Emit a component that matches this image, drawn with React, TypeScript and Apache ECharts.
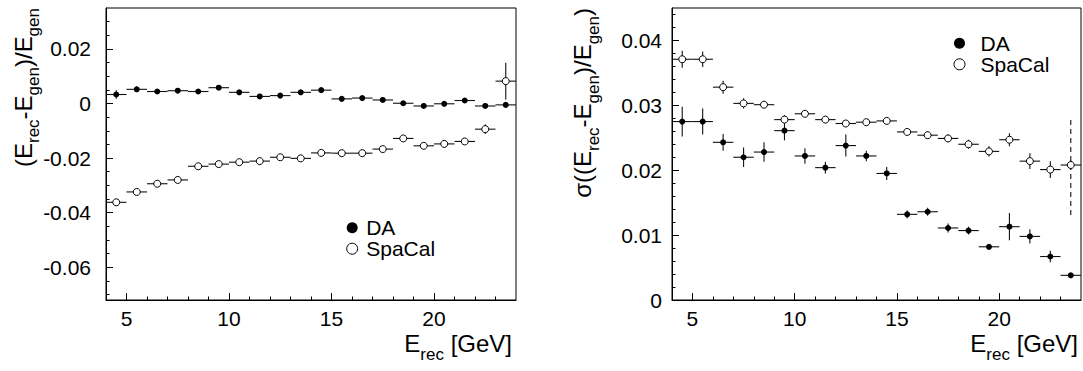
import React, { useEffect, useRef } from 'react';
import * as echarts from 'echarts';

// ---- data ----
const energies = [4.5, 5.5, 6.5, 7.5, 8.5, 9.5, 10.5, 11.5, 12.5, 13.5, 14.5, 15.5, 16.5, 17.5, 18.5, 19.5, 20.5, 21.5, 22.5, 23.5];
const binHalfWidth = 0.5;

const biasDA = [0.0033, 0.0052, 0.0044, 0.0047, 0.0044, 0.0058, 0.0041, 0.0026, 0.0029, 0.0041, 0.0049, 0.0017, 0.0020, 0.0013, 0.0001, -0.0009, -0.0001, 0.0011, -0.0009, -0.0005];
const biasDAErr = [0.0016, 0.0010, 0.0006, 0.0006, 0.0006, 0.0007, 0.0006, 0.0006, 0.0006, 0.0006, 0.0006, 0.0006, 0.0006, 0.0006, 0.0006, 0.0006, 0.0006, 0.0006, 0.0006, 0.0006];
const biasSpaCal = [-0.0362, -0.0324, -0.0294, -0.0280, -0.0230, -0.0222, -0.0215, -0.0211, -0.0197, -0.0201, -0.0181, -0.0182, -0.0182, -0.0167, -0.0128, -0.0155, -0.0148, -0.0139, -0.0094, 0.0082];
const biasSpaCalErr = [0.0010, 0.0008, 0.0007, 0.0007, 0.0007, 0.0007, 0.0007, 0.0007, 0.0007, 0.0007, 0.0007, 0.0007, 0.0007, 0.0007, 0.0009, 0.0008, 0.0008, 0.0008, 0.0018, 0.0067];

const resDA = [0.0275, 0.0275, 0.0243, 0.0220, 0.0228, 0.0261, 0.0222, 0.0204, 0.0238, 0.0222, 0.0195, 0.0132, 0.0136, 0.0111, 0.0107, 0.0082, 0.0113, 0.0098, 0.0067, 0.0038];
const resDAErr = [0.0023, 0.0020, 0.0013, 0.0015, 0.0015, 0.0015, 0.0012, 0.0009, 0.0017, 0.0008, 0.0010, 0.0006, 0.0006, 0.0007, 0.0006, 0.0004, 0.0021, 0.0011, 0.0009, 0.0003];
const resSpaCal = [0.0371, 0.0371, 0.0328, 0.0303, 0.0301, 0.0278, 0.0287, 0.0278, 0.0272, 0.0274, 0.0276, 0.0259, 0.0254, 0.0249, 0.0240, 0.0229, 0.0247, 0.0214, 0.0201, 0.0208];
const resSpaCalErr = [0.0013, 0.0012, 0.0010, 0.0008, 0.0005, 0.0007, 0.0005, 0.0004, 0.0004, 0.0004, 0.0004, 0.0004, 0.0006, 0.0006, 0.0007, 0.0008, 0.0010, 0.0012, 0.0013, 0.0007];
// dashed (systematic) band of the last SpaCal bin: [x, low, high]
const resSpaCalDashed = [[23.5, 0.0131, 0.0280]];

// ---- axes ----
const xRange = [4, 24];
const biasRange = [-0.072, 0.035];
const resRange = [0, 0.045];
const xMajorTicks = [5, 10, 15, 20];
const xMinorTicks = [6, 7, 8, 9, 11, 12, 13, 14, 16, 17, 18, 19, 21, 22, 23];
const biasMajorTicks = [-0.06, -0.04, -0.02, 0, 0.02];
const biasMinorTicks = [-0.07, -0.065, -0.055, -0.05, -0.045, -0.035, -0.03, -0.025, -0.015, -0.01, -0.005, 0.005, 0.01, 0.015, 0.025, 0.03];
const resMajorTicks = [0, 0.01, 0.02, 0.03, 0.04];
const resMinorTicks = [0.002, 0.004, 0.006, 0.008, 0.012, 0.014, 0.016, 0.018, 0.022, 0.024, 0.026, 0.028, 0.032, 0.034, 0.036, 0.038, 0.042, 0.044];

const FONT = "'Liberation Sans', Arial, Helvetica, sans-serif";

function xMajor(gi: number) {
  return {
    type: 'value', gridIndex: gi, min: xRange[0], max: xRange[1], position: 'bottom',
    axisLine: { show: true, onZero: false, lineStyle: { color: '#000', width: 1 } },
    axisTick: { show: true, inside: true, length: 7, customValues: xMajorTicks, lineStyle: { color: '#000' } },
    axisLabel: { show: true, customValues: xMajorTicks, margin: 8, fontSize: 21, fontFamily: FONT, color: '#000' },
    splitLine: { show: false },
  };
}
function xMinor(gi: number) {
  return {
    type: 'value', gridIndex: gi, min: xRange[0], max: xRange[1], position: 'bottom',
    axisLine: { show: false, onZero: false },
    axisTick: { show: true, inside: true, length: 3.5, customValues: xMinorTicks, lineStyle: { color: '#000' } },
    axisLabel: { show: false },
    splitLine: { show: false },
  };
}
function yMajor(gi: number, range: number[], ticks: number[], margin: number) {
  return {
    type: 'value', gridIndex: gi, min: range[0], max: range[1], position: 'left',
    axisLine: { show: true, onZero: false, lineStyle: { color: '#000', width: 1 } },
    axisTick: { show: true, inside: true, length: 7, customValues: ticks, lineStyle: { color: '#000' } },
    axisLabel: { show: true, customValues: ticks, margin, fontSize: 21, fontFamily: FONT, color: '#000' },
    splitLine: { show: false },
  };
}
function yMinor(gi: number, range: number[], ticks: number[]) {
  return {
    type: 'value', gridIndex: gi, min: range[0], max: range[1], position: 'left',
    axisLine: { show: false, onZero: false },
    axisTick: { show: true, inside: true, length: 3.5, customValues: ticks, lineStyle: { color: '#000' } },
    axisLabel: { show: false },
    splitLine: { show: false },
  };
}

function errorBars(name: string, xi: number, yi: number, vals: number[], errs: number[]) {
  return {
    type: 'custom', name, xAxisIndex: xi, yAxisIndex: yi, z: 2, silent: true,
    data: energies.map((e, i) => [e, vals[i], errs[i]]),
    encode: { x: 0, y: 1 },
    renderItem: (params: any, api: any) => {
      const x = api.value(0), y = api.value(1), e = api.value(2);
      const l = api.coord([x - binHalfWidth, y]);
      const r = api.coord([x + binHalfWidth, y]);
      const t = api.coord([x, y + e]);
      const b = api.coord([x, y - e]);
      const st = { stroke: '#111', lineWidth: 1.1 };
      return {
        type: 'group',
        children: [
          { type: 'line', shape: { x1: l[0], y1: l[1], x2: r[0], y2: r[1] }, style: st },
          { type: 'line', shape: { x1: t[0], y1: t[1], x2: b[0], y2: b[1] }, style: st },
        ],
      };
    },
  };
}

function points(name: string, xi: number, yi: number, vals: number[]) {
  const open = name === 'SpaCal';
  return {
    type: 'scatter', name, xAxisIndex: xi, yAxisIndex: yi, z: 3, silent: true,
    data: energies.map((e, i) => [e, vals[i]]),
    symbol: 'circle', symbolSize: open ? 7 : 6,
    itemStyle: open ? { color: '#fff', borderColor: '#000', borderWidth: 1, opacity: 1 } : { color: '#000', opacity: 1 },
  };
}

const legendData = [
  { name: 'DA', icon: 'circle', itemStyle: { color: '#000', borderWidth: 0 } },
  { name: 'SpaCal', icon: 'circle', itemStyle: { color: '#fff', borderColor: '#000', borderWidth: 1 } },
];

const rich = {
  m: { fontSize: 24, fontFamily: FONT, fill: '#000', verticalAlign: 'top' },
  s: { fontSize: 17, fontFamily: FONT, fill: '#000', verticalAlign: 'top', padding: [14, 0, 0, 0] },
};

export default function App() {
  const ref = useRef<HTMLDivElement>(null);
  useEffect(() => {
    if (!ref.current) return;
    const chart = echarts.init(ref.current, undefined, { renderer: 'svg' });
    const legendCommon = {
      orient: 'vertical', padding: 0, itemGap: 0, itemWidth: 11, itemHeight: 11, selectedMode: false,
      data: legendData,
    };
    const legendText = { fontSize: 21, fontFamily: FONT, color: '#000', lineHeight: 21 };
    chart.setOption({
      animation: false,
      backgroundColor: '#fff',
      grid: [
        { left: 106, top: 8, width: 410, height: 292, show: true, borderColor: '#000', borderWidth: 1, backgroundColor: 'transparent' },
        { left: 672, top: 8, width: 409, height: 292, show: true, borderColor: '#000', borderWidth: 1, backgroundColor: 'transparent' },
      ],
      xAxis: [xMajor(0), xMinor(0), xMajor(1), xMinor(1)],
      yAxis: [
        yMajor(0, biasRange, biasMajorTicks, 15),
        yMinor(0, biasRange, biasMinorTicks),
        yMajor(1, resRange, resMajorTicks, 10),
        yMinor(1, resRange, resMinorTicks),
      ],
      legend: [
        { ...legendCommon, left: 346.2, top: 217.2, textStyle: { ...legendText, padding: [0, 0, 0, 3.5] } },
        { ...legendCommon, left: 953.5, top: 32.8, textStyle: { ...legendText, padding: [0, 0, 0, 10.5] } },
      ],
      graphic: [
        { type: 'text', x: 512, y: 331.6, silent: true, style: { text: '{m|E}{s|rec}{m| [GeV]}', rich, align: 'right', verticalAlign: 'top' } },
        { type: 'text', x: 1078, y: 331.6, silent: true, style: { text: '{m|E}{s|rec}{m| [GeV]}', rich, align: 'right', verticalAlign: 'top' } },
        { type: 'text', x: 11.3, y: 8, rotation: Math.PI / 2, silent: true, style: { text: '{m|(E}{s|rec}{m|-E}{s|gen}{m|)/E}{s|gen}', rich, align: 'right', verticalAlign: 'top' } },
        { type: 'text', x: 570.6, y: 8, rotation: Math.PI / 2, silent: true, style: { text: '{m|σ((E}{s|rec}{m|-E}{s|gen}{m|)/E}{s|gen}{m|)}', rich, align: 'right', verticalAlign: 'top' } },
      ],
      series: [
        errorBars('DA err', 0, 0, biasDA, biasDAErr),
        errorBars('SpaCal err', 0, 0, biasSpaCal, biasSpaCalErr),
        points('DA', 0, 0, biasDA),
        points('SpaCal', 0, 0, biasSpaCal),
        errorBars('DA err', 2, 2, resDA, resDAErr),
        errorBars('SpaCal err', 2, 2, resSpaCal, resSpaCalErr),
        {
          type: 'custom', name: 'SpaCal syst', xAxisIndex: 2, yAxisIndex: 2, z: 2, silent: true,
          data: resSpaCalDashed,
          encode: { x: 0, y: [1, 2] },
          renderItem: (params: any, api: any) => {
            const p1 = api.coord([api.value(0), api.value(1)]);
            const p2 = api.coord([api.value(0), api.value(2)]);
            return { type: 'line', shape: { x1: p1[0], y1: p1[1], x2: p2[0], y2: p2[1] }, style: { stroke: '#111', lineWidth: 1.1, lineDash: [5, 4] } };
          },
        },
        points('DA', 2, 2, resDA),
        points('SpaCal', 2, 2, resSpaCal),
      ],
    });
    return () => chart.dispose();
  }, []);
  return <div ref={ref} style={{ position: 'fixed', left: 0, top: 0, width: 1083, height: 371, background: '#fff' }} />;
}
